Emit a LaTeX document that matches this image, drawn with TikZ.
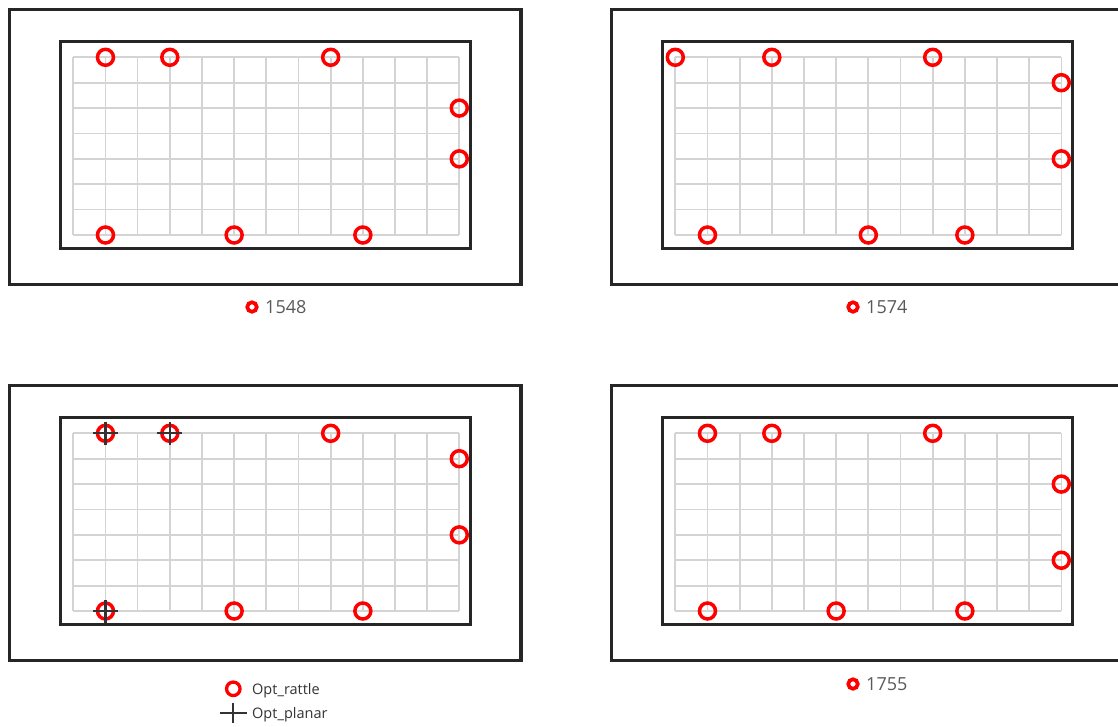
\documentclass[tikz,border=0pt]{standalone}
\usepackage{fontspec}
\setmainfont{Open Sans}
\definecolor{framec}{HTML}{262626}
\definecolor{gridc}{HTML}{D4D4D4}
\definecolor{ringred}{HTML}{FF0000}
\definecolor{labelgray}{HTML}{595959}
\definecolor{crossc}{HTML}{333333}
\tikzset{
  outerbox/.style={draw=framec,line width=3.5pt},
  innerbox/.style={draw=framec,line width=3.5pt},
  gridln/.style={draw=gridc,line width=1.7pt},
  rattle/.style={circle,draw=ringred,line width=3.5pt,minimum size=16pt,inner sep=0pt},
  smallring/.style={circle,draw=ringred,line width=3.7pt,minimum size=9.5pt,inner sep=0pt},
  planarmark/.style={draw=crossc,line width=2.2pt},
  numlabel/.style={anchor=base west,text=labelgray,font=\fontsize{18}{18}\selectfont,inner sep=0pt},
  leglabel/.style={anchor=base west,text=crossc,font=\fontsize{14.5}{15}\selectfont,inner sep=0pt}
}
% frame + grid of one panel, shifted by (#1,#2)
\newcommand\panelframe[2]{%
  \begin{scope}[shift={(#1,#2)}]
    \draw[outerbox] (9.3,9.3) rectangle (521.2,284.7);
    \foreach \k in {0,...,12} \draw[gridln] (73.3+\k*32.17,57.3) -- (73.3+\k*32.17,235);
    \foreach \k in {0,...,7} \draw[gridln] (73.3,57.3+\k*25.39) -- (459.3,57.3+\k*25.39);
    \draw[innerbox] (60.7,41.3) rectangle (470.7,248.7);
  \end{scope}}
% rings: #1 dx, #2 dy, #3 name, #4 top cols, #5 right rows, #6 bottom cols
\newcommand\panelrings[6]{%
  \begin{scope}[shift={(#1,#2)}]
    \foreach \c in {#4} \node[rattle] (#3t\c) at (73.3+\c*32.17,57.3) {};
    \foreach \r in {#5} \node[rattle] (#3r\r) at (459.3,57.3+\r*25.39) {};
    \foreach \c in {#6} \node[rattle] (#3b\c) at (73.3+\c*32.17,235) {};
  \end{scope}}
\newcommand\planarcross[1]{%
  \draw[planarmark] (#1.center) ++(-12.5,0) -- ++(25,0);
  \draw[planarmark] (#1.center) ++(0,-11.5) -- ++(0,23);}
\begin{document}
\begin{tikzpicture}[x=1pt,y=-1pt]
  \useasboundingbox (0,0) rectangle (1118,726);
  \clip (0,0) rectangle (1118,726);
  \panelframe{0}{0}
  \panelframe{602}{0}
  \panelframe{0}{376}
  \panelframe{602}{376}
  \panelrings{0}{0}{pa}{1,3,8}{2,4}{1,5,9}
  \panelrings{602}{0}{pb}{0,3,8}{1,4}{1,6,9}
  \panelrings{0}{376}{pc}{1,3,8}{1,4}{1,5,9}
  \panelrings{602}{376}{pd}{1,3,8}{2,5}{1,5,9}
  \planarcross{pct1}
  \planarcross{pct3}
  \planarcross{pcb1}
  % legends
  \node[smallring] (la) at (252,307) {};
  \node[numlabel] (ta) at (265,313.3) {1548};
  \node[smallring] (lb) at (853,307) {};
  \node[numlabel] (tb) at (866,313.3) {1574};
  \node[smallring] (ld) at (853,684) {};
  \node[numlabel] (td) at (866,690) {1755};
  \node[rattle,minimum size=13.5pt,line width=3.3pt] (lr) at (233.3,688.8) {};
  \node[leglabel] (tr) at (252,694.3) {Opt\_rattle};
  \coordinate (lp) at (233.3,712.7);
  \draw[planarmark] (lp) ++(-13.3,0) -- ++(26.6,0);
  \draw[planarmark] (lp) ++(0,-9.5) -- ++(0,20);
  \node[leglabel] (tp) at (252,718.7) {Opt\_planar};
\end{tikzpicture}
\end{document}
